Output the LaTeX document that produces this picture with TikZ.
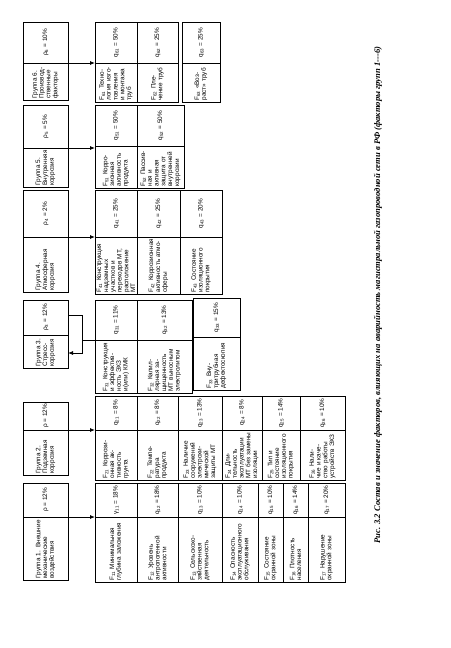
\documentclass[tikz,border=0pt]{standalone}
\usepackage{fontspec}
\setmainfont{Liberation Sans}
\newfontfamily\capfont{Liberation Serif}
\newfontfamily\cellfont{Liberation Sans}
\usetikzlibrary{arrows.meta}
\tikzset{
  cellbox/.style={draw, line width=0.9pt, rotate=90, inner sep=0.8pt, outer sep=0pt,
    font=\cellfont\fontsize{6.4}{6.8}\selectfont, align=left},
  valbox/.style={cellbox, align=center},
  arr/.style={-{Latex[length=5pt,width=4pt]}, line width=0.8pt},
  plain/.style={line width=0.8pt},
  capt/.style={rotate=90, font=\capfont\bfseries\itshape\fontsize{8.6}{10}\selectfont}
}
\newcommand\sbs[1]{\textsubscript{#1}}
% name, x1, x2, y1, ysplit, y2, name text, value text
\newcommand\tcell[8]{%
  \pgfmathsetmacro\tcx{(#2+#3)/2}%
  \pgfmathsetmacro\tcw{#3-#2}%
  \pgfmathsetmacro\tcna{(#5+#6)/2}%
  \pgfmathsetmacro\tchn{#6-#5}%
  \pgfmathsetmacro\tcva{(#4+#5)/2}%
  \pgfmathsetmacro\tchv{#5-#4}%
  \pgfmathsetmacro\tctw{#6-#5-3}%
  \node[cellbox, minimum width=\tchn pt, minimum height=\tcw pt, text width=\tctw pt] (#1n) at (\tcx,\tcna) {#7};
  \node[valbox, minimum width=\tchv pt, minimum height=\tcw pt] (#1v) at (\tcx,\tcva) {#8};
}
\begin{document}
\begin{tikzpicture}[x=1pt,y=-1pt]
\useasboundingbox (0,0) rectangle (450,648);
% groups
\tcell{g6}{23}{68}{22}{63}{100}{Группа 6. Производ\-ственные факторы}{ρ\sbs{6}~=~10\%}
\tcell{g5}{23}{68}{105}{148}{187}{Группа 5. Внутренняя коррозия}{ρ\sbs{5}~=~5\%}
\tcell{g4}{23}{68}{190}{237}{292}{Группа 4. Атмосферная коррозия}{ρ\sbs{4}~=~2\%}
\tcell{g3}{23}{68}{300}{335}{368}{Группа 3. Стресс-кор\-розия}{ρ\sbs{3}~=~12\%}
\tcell{g2}{23}{68}{402}{430}{475}{Группа 2. Подземная коррозия}{ρ~=~12\%}
\tcell{g1}{23}{68}{483}{517}{580}{Группа 1. Внешние механические воздействия}{ρ~=~12\%}
% group 1 factors
\tcell{f11}{95}{137}{483}{517}{582}{F\sbs{11} Мини\-мальная глубина заложения}{γ\sbs{11}~=~18\%}
\tcell{f12}{137}{178}{483}{517}{582}{F\sbs{12} Уровень антропоген\-ной актив\-ности}{q\sbs{12}~=~18\%}
\tcell{f13}{178}{222}{483}{517}{582}{F\sbs{13} Сельскохо\-зяйственная деятель\-ность}{q\sbs{13}~=~10\%}
\tcell{f14}{222}{258}{483}{517}{582}{F\sbs{14} Опасность эксплуата\-ционного обслужи\-вания}{q\sbs{14}~=~10\%}
\tcell{f15}{258}{283}{483}{517}{582}{F\sbs{15} Состояние охранной зоны}{q\sbs{15}~=~10\%}
\tcell{f16}{283}{308}{483}{517}{582}{F\sbs{16} Плотность населения}{q\sbs{16}~=~14\%}
\tcell{f17}{308}{345}{483}{517}{582}{F\sbs{17} Нарушение охранной зоны}{q\sbs{17}~=~20\%}
% group 2 factors
\tcell{f21}{95}{137}{396}{430}{480}{F\sbs{21} Коррози\-онная ак\-тивность грунта}{q\sbs{21}~=~8\%}
\tcell{f22}{137}{178}{396}{430}{480}{F\sbs{22} Темпе\-ратура продукта}{q\sbs{22}~=~8\%}
\tcell{f23}{178}{222}{396}{430}{480}{F\sbs{23} Нали\-чие со\-оружений электрохи\-мической защиты МТ}{q\sbs{23}~=~13\%}
\tcell{f24}{222}{262}{396}{430}{480}{F\sbs{24} Дли\-тельность эксплуа\-тации МТ без замены изоляции}{q\sbs{24}~=~8\%}
\tcell{f25}{262}{300}{396}{430}{480}{F\sbs{25} Тип и со\-стояние изоляцион\-ного покры\-тия}{q\sbs{25}~=~14\%}
\tcell{f26}{300}{345}{396}{430}{480}{F\sbs{26} Нали\-чие и каче\-ство работы устройств ЭХЗ}{q\sbs{26}~=~10\%}
% group 3 factors
\tcell{f31}{95}{137}{300}{340}{393}{F\sbs{31} Кон\-струкция и эффектив\-ность ЭХЗ и(или) КМК}{q\sbs{31}~=~11\%}
\tcell{f32}{137}{192}{300}{340}{393}{F\sbs{32} Капил\-лярная за\-щищен\-ность МТ выносным электролитом}{q\sbs{32}~=~13\%}
\tcell{f33}{193}{240}{298}{337}{390}{F\sbs{33} Вну\-тритрубная дефекто\-скопия}{q\sbs{33}~=~15\%}
% group 4 factors
\tcell{f41}{95}{137}{190}{237}{294}{F\sbs{41} Кон\-струкция надземных участков и переходов МТ, располо\-жение МТ}{q\sbs{41}~=~25\%}
\tcell{f42}{137}{180}{190}{237}{294}{F\sbs{42} Коррози\-онная актив\-ность атмо\-сферы}{q\sbs{42}~=~25\%}
\tcell{f43}{180}{222}{190}{237}{294}{F\sbs{43} Состоя\-ние изоля\-ционного по\-крытия}{q\sbs{43}~=~20\%}
% group 5 factors
\tcell{f51}{95}{137}{105}{146}{188}{F\sbs{51} Корро\-зионная активность продукта}{q\sbs{51}~=~50\%}
\tcell{f52}{137}{184}{105}{146}{188}{F\sbs{52} Пассив\-ная и актив\-ная защита от внутрен\-ней коррозии}{q\sbs{52}~=~50\%}
% group 6 factors
\tcell{f61}{95}{137}{22}{63}{102}{F\sbs{61} Техно\-логия изго\-товления и монтажа труб}{q\sbs{61}~=~50\%}
\tcell{f62}{137}{178}{22}{63}{102}{F\sbs{62} Пле\-чение труб}{q\sbs{62}~=~25\%}
\tcell{f63}{182}{220}{22}{63}{102}{F\sbs{63} «Воз\-раст» труб}{q\sbs{63}~=~25\%}
% arrows
\draw[arr] (g1n.south east) -- (f11n.north east);
\draw[arr] (g2n.south east) -- (f21n.north east);
\draw[arr] (g4n.south east) -- (f41n.north east);
\draw[arr] (g5n.south east) -- (g5n.south east -| f51n.north east);
\draw[arr] (g6n.south east) -- (f61n.north east);
\coordinate (b0) at (68,315);
\coordinate (b1) at (82,315);
\coordinate (b2) at (82,353);
\coordinate (b3) at (68,353);
\coordinate (b4) at (82,340);
\draw[arr] (b0) -- (b1) -- (b2) -- (b3);
\draw[plain] (b4) -- (f31n.north east);
% caption
\node[capt] (cap) at (378,295) {Рис. 3.2 Состав и значение факторов, влияющих на аварийность магистральной газопроводной сети в РФ (факторы групп 1---6)};
\end{tikzpicture}
\end{document}
